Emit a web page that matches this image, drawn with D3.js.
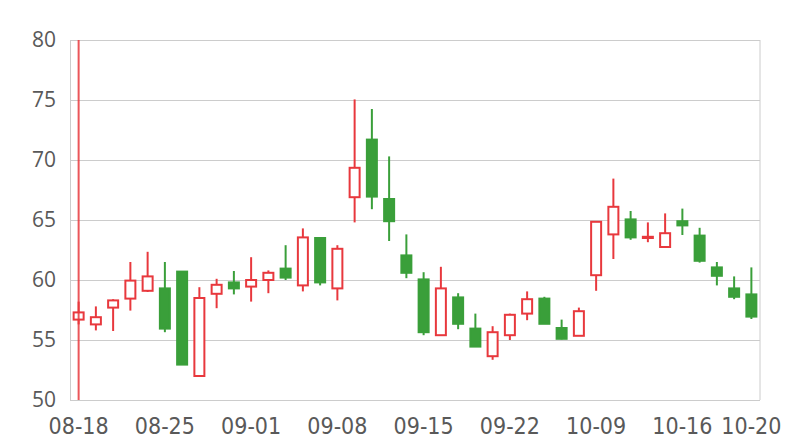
<!DOCTYPE html>
<html>
<head>
<meta charset="utf-8">
<script src="https://cdn.jsdelivr.net/npm/d3@7/dist/d3.min.js"></script>
<style>
html,body{margin:0;padding:0;background:#fff;}
svg{display:block;}
</style>
</head>
<body>
<svg id="chart" width="800" height="440"></svg>
<script>
const dates = ["08-18","08-21","08-22","08-23","08-24","08-25","08-28","08-29","08-30","08-31",
  "09-01","09-04","09-05","09-06","09-07","09-08","09-11","09-12","09-13","09-14",
  "09-15","09-18","09-19","09-20","09-21","09-22","09-25","09-26","09-27","09-28",
  "10-09","10-10","10-11","10-12","10-13","10-16","10-17","10-18","10-19","10-20"];
const open  = [56.7,56.3,57.7,58.45,59.1,59.3,60.7,52.0,58.85,59.8,
  59.45,60.0,60.95,59.55,63.5,59.3,66.9,71.7,66.75,62.05,
  60.05,55.4,58.55,55.95,53.65,55.4,57.2,58.45,56.0,55.35,
  60.4,63.8,65.05,63.5,62.75,64.9,63.7,61.05,59.3,58.8];
const close = [57.3,56.9,58.3,59.95,60.3,55.95,52.95,58.5,59.6,59.3,
  60.0,60.6,60.2,63.55,59.8,62.6,69.35,66.95,64.9,60.6,
  55.65,59.3,56.35,54.45,55.65,57.1,58.4,56.35,55.1,57.4,
  64.85,66.1,63.55,63.6,63.9,64.55,61.6,60.35,58.6,56.95];
const high  = [58.2,57.8,58.4,61.5,62.35,61.5,60.7,59.4,60.1,60.75,
  61.9,60.8,62.9,64.3,63.5,62.9,75.05,74.25,70.3,63.8,
  60.65,61.1,58.9,57.2,56.15,57.2,59.05,58.6,56.7,57.7,
  64.85,68.45,65.75,64.8,65.55,65.95,64.35,61.5,60.3,61.05];
const low   = [56.3,55.8,55.75,57.45,59.0,55.65,52.95,52.0,57.65,58.8,
  58.2,58.9,60.0,59.05,59.55,58.3,64.8,65.9,63.25,60.15,
  55.4,55.4,55.9,54.45,53.35,55.0,56.65,56.35,55.05,55.35,
  59.1,61.75,63.35,63.15,62.7,63.75,61.45,59.55,58.4,56.75];
const markerDate = ["08-18"];
const yTicks = [50,55,60,65,70,75,80];
const xTickLabels = ["08-18","08-25","09-01","09-08","09-15","09-22","10-09","10-16","10-20"];

const data = dates.map((d,i)=>({date:d,open:open[i],close:close[i],high:high[i],low:low[i]}));

const RED = "#e8383d", GREEN = "#3a9f3a", GRID = "#cccccc", TEXT = "#595959";
const mLeft = 70, mRight = 760, mTop = 40, mBottom = 400;

const svg = d3.select("#chart");
const x = d3.scaleBand().domain(dates).range([mLeft,mRight]).padding(0);
const y = d3.scaleLinear().domain([50,80]).range([mBottom,mTop]);

svg.append("defs").append("clipPath").attr("id","plot")
  .append("rect").attr("x",mLeft).attr("y",mTop).attr("width",mRight-mLeft).attr("height",mBottom-mTop);

const yAxis = d3.axisLeft(y).tickValues(yTicks).tickSize(-(mRight-mLeft)).tickPadding(14);
const gy = svg.append("g").attr("transform",`translate(${mLeft},0)`).call(yAxis);
gy.select(".domain").attr("stroke",GRID);
gy.selectAll(".tick line").attr("stroke",GRID).attr("stroke-width",1);
gy.selectAll(".tick text").attr("fill",TEXT).attr("font-size","21px")
  .attr("font-family","'Open Sans','Noto Sans',sans-serif");
svg.append("line").attr("x1",mRight).attr("x2",mRight).attr("y1",mTop).attr("y2",mBottom)
  .attr("stroke",GRID).attr("stroke-width",1);

const xAxis = d3.axisBottom(x).tickValues(xTickLabels).tickSize(0).tickPadding(18);
const gx = svg.append("g").attr("transform",`translate(0,${mBottom})`).call(xAxis);
gx.select(".domain").remove();
gx.selectAll(".tick text").attr("fill",TEXT).attr("font-size","23px")
  .attr("font-family","'DejaVu Sans Condensed','Liberation Sans Narrow',sans-serif")
  .attr("font-stretch","condensed");

const plot = svg.append("g").attr("clip-path","url(#plot)");
const cx = d => x(d) + x.bandwidth()/2;
const bw = 10;

const c = plot.selectAll("g.c").data(data).join("g").attr("class","c");
c.append("line")
  .attr("x1",d=>cx(d.date)).attr("x2",d=>cx(d.date))
  .attr("y1",d=>y(d.high)).attr("y2",d=>y(d.low))
  .attr("stroke",d=>d.close>=d.open?RED:GREEN).attr("stroke-width",2);
c.append("rect")
  .attr("x",d=>cx(d.date)-bw/2)
  .attr("y",d=>y(Math.max(d.open,d.close)))
  .attr("width",bw)
  .attr("height",d=>Math.max(0.5,Math.abs(y(d.open)-y(d.close))))
  .attr("fill",d=>d.close>=d.open?"#ffffff":GREEN)
  .attr("stroke",d=>d.close>=d.open?RED:GREEN)
  .attr("stroke-width",2);

plot.selectAll("line.mk").data(markerDate).join("line").attr("class","mk")
  .attr("x1",d=>cx(d)).attr("x2",d=>cx(d))
  .attr("y1",y(80)).attr("y2",y(50))
  .attr("stroke",RED).attr("stroke-opacity",0.85).attr("stroke-width",2);
</script>
</body>
</html>
